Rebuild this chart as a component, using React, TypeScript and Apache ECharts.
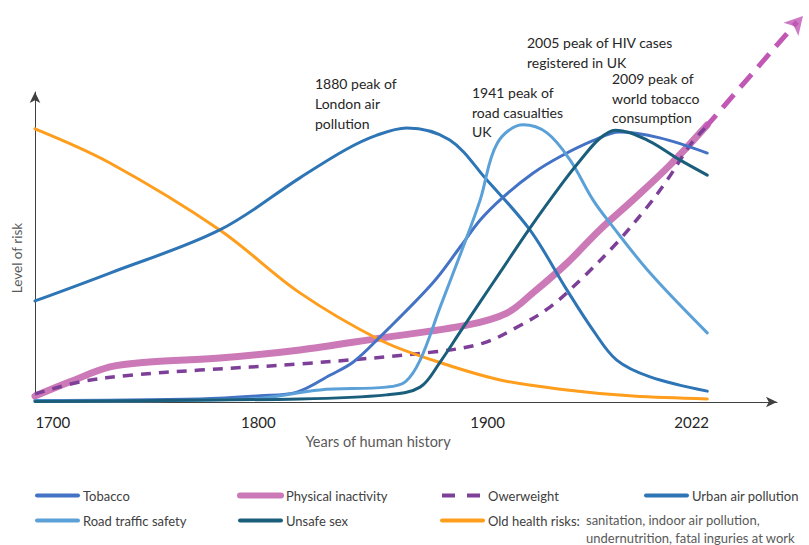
import React, { useEffect, useRef } from "react";
import * as echarts from "echarts";

// x = position along the timeline (0 = origin, 100 = end of axis), y = level of risk (0-100)
const xTickPos = [2.4, 30.1, 61.0, 88.5];
const xTickLabels = ["1700", "1800", "1900", "2022"];

const tobacco = [[0, 0.5], [22.2, 1], [30.3, 2], [35.3, 3.2], [39.8, 8.7], [42.9, 12.9], [46.5, 21], [53.6, 38.4], [57.3, 50], [60, 58.7], [63.1, 66.1], [67.1, 73.8], [70.8, 79.2], [75.2, 84.3], [78.8, 87.1], [84.2, 85.2], [90.6, 80.3]];
const physicalInactivity = [[0, 1.9], [4.7, 6.5], [10.1, 11.3], [15.4, 12.9], [24.9, 14.2], [35.7, 16.8], [46.5, 20.6], [58.2, 24.8], [63.6, 28.7], [67.1, 35.2], [71.7, 44.8], [76.1, 55.5], [80.6, 65.2], [85.6, 76.5], [90.6, 89.4]];
const overweight = [[0, 2.6], [6.1, 6.5], [13.2, 8.7], [22.2, 10.3], [35.7, 12.3], [53.6, 16.1], [60.4, 19], [65, 24.2], [69.4, 30.6], [73.9, 40.3], [78.4, 51.3], [82.5, 62.9], [85.2, 71.6], [88.3, 82.9], [90.3, 88.4]];
const overweightTrend = [[90.3, 88.4], [102.7, 122.6]];
const overweightArrow = [[103.5, 124.5]];
const urbanAir = [[0, 32.6], [10.1, 41.6], [24.9, 55.5], [35.7, 72.3], [41.8, 81.3], [46, 86], [50.1, 88.4], [55.9, 84.5], [60.9, 71.6], [66.7, 55.5], [71.7, 36.1], [75.2, 23.2], [78.4, 13.5], [82.9, 8.1], [90.6, 3.5]];
const roadTraffic = [[0, 0.3], [29, 1], [38.4, 3.9], [47.4, 4.8], [49.9, 6.5], [51.9, 13.5], [54.6, 30.6], [57.7, 50], [60, 65.2], [62.3, 83.5], [65.8, 89.4], [69, 86.8], [72.1, 78.1], [75.2, 65.2], [77.5, 57.7], [82.9, 41.6], [90.6, 22.3]];
const unsafeSex = [[0, 0.2], [35.7, 1], [47.4, 2.3], [51.9, 4.8], [54.6, 12.9], [57.3, 22.6], [60, 32.3], [62.7, 41.9], [66.7, 56.1], [71.2, 71], [73.5, 78], [76.1, 85], [78.2, 87.7], [82.5, 84.5], [86.9, 78.1], [90.6, 73.2]];
const oldHealthRisks = [[0, 88.1], [10.1, 77.1], [24.9, 55.5], [35.7, 35.2], [46.5, 20], [53.6, 13.5], [62.7, 7.1], [71.7, 3.9], [80.6, 1.9], [90.6, 1]];

const FONT = "Lato";

export default function App() {
  const ref = useRef<HTMLDivElement>(null);
  useEffect(() => {
    if (!ref.current) return;
    const chart = echarts.init(ref.current, null, { renderer: "svg" });
    const line = (name: string, data: number[][], color: string, width: number, extra: any = {}) => ({
      name,
      type: "line",
      data,
      smooth: 0.35,
      symbol: "none",
      lineStyle: { color, width, cap: "round", ...(extra.lineStyle || {}) },
      itemStyle: { color },
      z: extra.z ?? 2,
    });
    const legendBase = {
      top: 489,
      padding: 0,
      orient: "vertical",
      itemWidth: 41,
      itemHeight: 14,
      itemGap: 12,
      itemStyle: { opacity: 0 },
      textStyle: { fontSize: 13, color: "#404040", fontFamily: FONT },
    };
    const item = (name: string, width: number, type: any = "solid") => ({ name, lineStyle: { width, type, cap: type === "solid" ? "round" : "butt" } });
    chart.setOption({
      animation: false,
      backgroundColor: "#ffffff",
      textStyle: { fontFamily: FONT },
      grid: [
        { left: 35, right: 32, top: 92, bottom: 143, containLabel: false },
        { left: 35, right: 0, top: 402 - 129 * 3.1, bottom: 143, containLabel: false },
      ],
      xAxis: [
        {
          type: "value",
          min: 0,
          max: 100,
          name: "Years of human history",
          nameLocation: "middle",
          nameGap: 25,
          nameTextStyle: { fontSize: 14.5, color: "#595959", fontFamily: FONT, padding: [0, 56, 0, 0] },
          axisLine: { lineStyle: { color: "#404040", width: 1 }, symbol: ["none", "arrow"], symbolSize: [8, 11] },
          axisTick: { show: false },
          splitLine: { show: false },
          axisLabel: {
            customValues: xTickPos,
            formatter: (v: number) => {
              const i = xTickPos.findIndex((p) => Math.abs(p - v) < 1e-6);
              return i >= 0 ? xTickLabels[i] : "";
            },
            fontSize: 15,
            color: "#262626",
            margin: 12,
            fontFamily: FONT,
          },
        },
        { gridIndex: 1, type: "value", min: 0, max: (809 - 35) / 7.42, show: false },
      ],
      yAxis: [
        {
          type: "value",
          min: 0,
          max: 100,
          name: "Level of risk",
          nameLocation: "middle",
          nameGap: 11,
          nameTextStyle: { fontSize: 13.5, color: "#595959", fontFamily: FONT, padding: [0, 22, 0, 0] },
          axisLine: { show: true, lineStyle: { color: "#404040", width: 1 }, symbol: ["none", "arrow"], symbolSize: [8, 11] },
          axisTick: { show: false },
          splitLine: { show: false },
          axisLabel: { show: false },
        },
        { gridIndex: 1, type: "value", min: 0, max: 129, show: false },
      ],
      legend: [
        { ...legendBase, left: 35, data: [item("Tobacco", 4), item("Road traffic safety", 4)] },
        { ...legendBase, left: 237, data: [item("Physical inactivity", 6), item("Unsafe sex", 4)] },
        { ...legendBase, left: 440, data: [item("Owerweight", 4, [13, 12]), item("Old health risks:", 4)] },
        { ...legendBase, left: 644, data: [item("Urban air pollution", 4)] },
      ],
      series: [
        line("Physical inactivity", physicalInactivity, "#CC79B8", 7, { z: 1 }),
        line("Owerweight", overweight, "#7E3F98", 3.5, { lineStyle: { type: [10, 8], cap: "butt" } }),
        {
          name: "Owerweight trend",
          type: "line",
          xAxisIndex: 1,
          yAxisIndex: 1,
          data: overweightTrend,
          symbol: "none",
          clip: false,
          lineStyle: { color: "#C158B5", width: 5, type: [17, 10] },
          z: 3,
        },
        {
          name: "Owerweight arrow",
          type: "scatter",
          xAxisIndex: 1,
          yAxisIndex: 1,
          data: overweightArrow,
          symbol: "arrow",
          symbolSize: [15, 18],
          symbolRotate: -42,
          clip: false,
          itemStyle: { color: "#C158B5" },
          z: 3,
        },
        line("Old health risks:", oldHealthRisks, "#FF9D1C", 3),
        line("Urban air pollution", urbanAir, "#2E75B6", 3),
        line("Tobacco", tobacco, "#4472C4", 3),
        line("Road traffic safety", roadTraffic, "#5BA1D8", 3),
        line("Unsafe sex", unsafeSex, "#1A5E7C", 3),
      ],
      graphic: [
        { type: "text", left: 315, top: 73, style: { text: "1880 peak of\nLondon air\npollution", font: `14px ${FONT}`, fill: "#262626", lineHeight: 20 } },
        { type: "text", left: 472, top: 83, style: { text: "1941 peak of\nroad casualties\nUK", font: `14px ${FONT}`, fill: "#262626", lineHeight: 19.5 } },
        { type: "text", left: 527, top: 33, style: { text: "2005 peak of HIV cases\nregistered in UK", font: `14px ${FONT}`, fill: "#262626", lineHeight: 19.5 } },
        { type: "text", left: 612, top: 69, style: { text: "2009 peak of\nworld tobacco\nconsumption", font: `14px ${FONT}`, fill: "#262626", lineHeight: 19.5 } },
        { type: "text", left: 586, top: 511, style: { text: "sanitation, indoor air pollution,\nundernutrition, fatal inguries at work", font: `13px ${FONT}`, fill: "#595959", lineHeight: 18 } },
      ],
    });
    return () => chart.dispose();
  }, []);
  return <div ref={ref} style={{ position: "absolute", left: 0, top: 0, width: 809, height: 545 }} />;
}
